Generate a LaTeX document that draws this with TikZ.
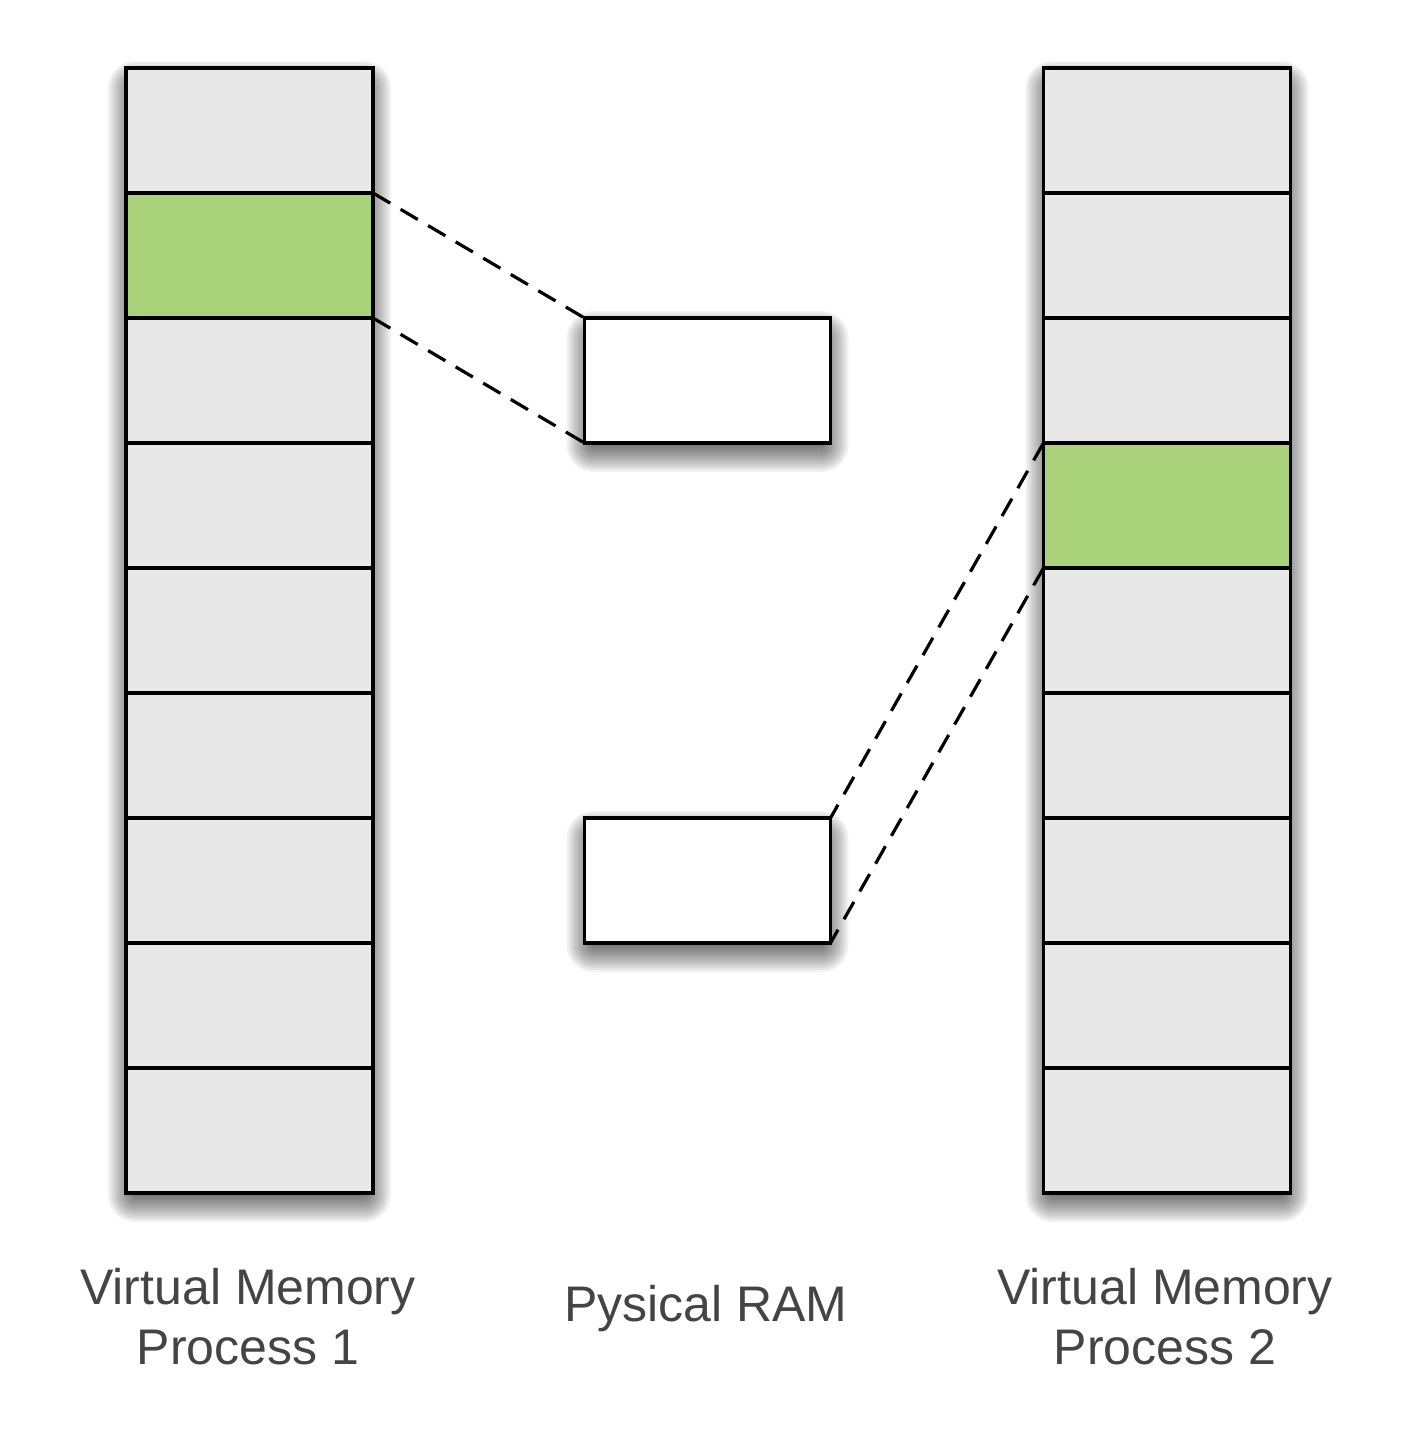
\documentclass[tikz,border=0pt]{standalone}
\usepackage{fontspec}
\setmainfont{Liberation Sans}
\usetikzlibrary{backgrounds}
\definecolor{cellgray}{HTML}{E8E8E8}
\definecolor{cellgreen}{HTML}{AAD27A}
\definecolor{txt}{HTML}{444444}
\newcommand\softshade[1]{%
  \foreach \r in {1,3,...,27} {
    \pgfmathsetmacro{\e}{\r-9}
    \fill[black, opacity=0.05, rounded corners=\r pt]
      ([xshift=-\e pt, yshift=\e pt-11pt]#1.north west) rectangle
      ([xshift=\e pt, yshift=-\e pt-11pt]#1.south east);
  }%
}
\begin{document}
\begin{tikzpicture}[x=1pt,y=-1pt,
  cellbox/.style={draw=black, line width=3.6pt, fill=cellgray, minimum width=247pt, minimum height=125pt, inner sep=0pt, outer sep=0pt},
  greencell/.style={cellbox, fill=cellgreen},
  colbox/.style={draw=black, line width=3.6pt, fill=cellgray, minimum width=247pt, minimum height=1125pt, inner sep=0pt, outer sep=0pt},
  rambox/.style={draw=black, line width=3.6pt, fill=white, minimum width=246pt, minimum height=125pt, inner sep=0pt, outer sep=0pt},
  link/.style={line width=3.2pt, dash pattern=on 20pt off 12pt},
  label/.style={text=txt, font=\fontsize{50}{60}\selectfont, align=center}
]
\useasboundingbox (0,0) rectangle (1412,1433);
% columns
\node[colbox] (col1) at (249.5,630.5) {};
\node[colbox] (col2) at (1167,630.5) {};
\foreach \i in {0,...,8} {
  \pgfmathsetmacro{\yy}{68+125*\i+62.5}
  \node[cellbox] (a\i) at (249.5,\yy) {};
  \node[cellbox] (b\i) at (1167,\yy) {};
}
\node[greencell] (a1g) at (249.5,255.5) {};
\node[greencell] (b3g) at (1167,505.5) {};
% RAM
\node[rambox] (ram1) at (707.5,380.5) {};
\node[rambox] (ram2) at (707.5,880.5) {};
% shadows
\begin{scope}[on background layer]
  \softshade{col1}
  \softshade{col2}
  \softshade{ram1}
  \softshade{ram2}
\end{scope}
% connectors
\draw[link] (a1g.north east) -- (ram1.north west);
\draw[link] (a1g.south east) -- (ram1.south west);
\draw[link] (b3g.north west) -- (ram2.north east);
\draw[link] (b3g.south west) -- (ram2.south east);
% labels
\node[label] (l1) at (248,1317) {Virtual Memory\\Process 1};
\node[label] (l2) at (706,1309) {Pysical RAM};
\node[label] (l3) at (1165,1317) {Virtual Memory\\Process 2};
\end{tikzpicture}
\end{document}
